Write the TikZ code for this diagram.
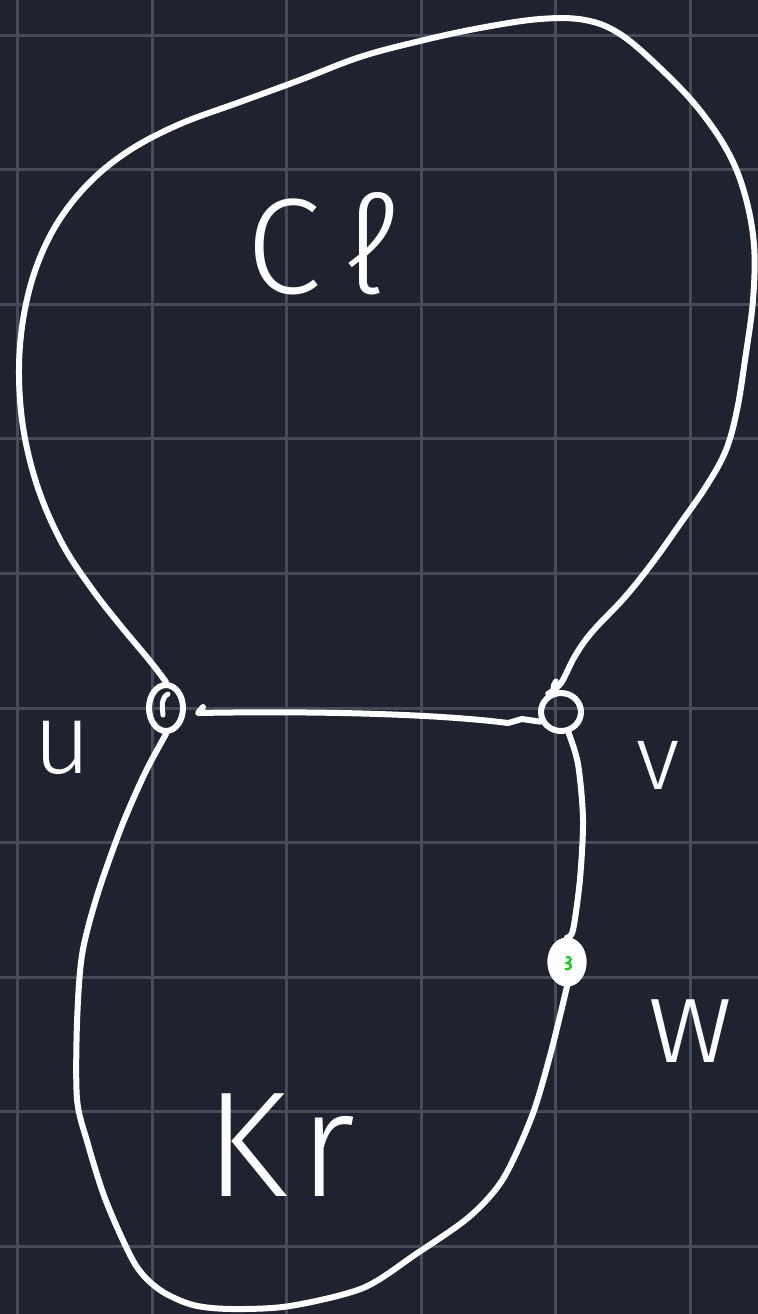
\documentclass[tikz,border=0pt]{standalone}
\usepackage{fontspec}
\newfontfamily\hand{Fira Sans Light}
\usetikzlibrary{shapes.geometric}
\definecolor{bg}{HTML}{1F2330}
\definecolor{gridc}{HTML}{474B58}
\definecolor{markc}{HTML}{22CC22}
\begin{document}
\begin{tikzpicture}[x=0.5pt,y=-0.5pt,
  stroke/.style={draw=white,line width=3pt,line cap=round,line join=round},
  vert/.style={ellipse,draw=white,line width=3pt,inner sep=0pt},
  lbl/.style={text=white,inner sep=0pt}]
\fill[bg] (0,0) rectangle (758,1314);
\useasboundingbox (0,0) rectangle (758,1314);
\foreach \i in {0,...,5} \draw[gridc,line width=1.5pt] ({17.5+134.6*\i},0) -- ({17.5+134.6*\i},1314);
\foreach \j in {0,...,9} \draw[gridc,line width=1.5pt] (0,{35+134.6*\j}) -- (758,{35+134.6*\j});

% vertices
\node[vert,minimum width=17pt,minimum height=23pt] (u) at (166,708) {};
\node[vert,minimum width=20pt,minimum height=19pt] (v) at (561,712) {};

% top blob C_l
\draw[stroke] plot[smooth,tension=0.6] coordinates {(u.north) (150,661) (120,625) (92,589) (63,545) (39,491) (24,433) (19,375) (23,320) (36,268) (58,222) (90,182) (130,150) (180,124) (240,102) (300,80) (360,57) (420,41) (480,28) (540,19) (585,20) (620,34) (660,68) (698,108) (728,152) (745,195) (754,245) (753,300) (745,360) (737,410) (726,450) (707,485) (680,524) (653,562) (625,597) (592,632) (575,656) (561,683) (v.125)};

% bottom blob K_r
\node[vert,fill=white,minimum width=16.5pt,minimum height=21.5pt] (w) at (567,962) {};
\draw[stroke] plot[smooth] coordinates {(u.south) (145,773) (121,828) (97,896) (82,955) (77,1023) (77,1099) (87,1141) (106,1201) (135,1264) (160,1290) (193,1305) (232,1309) (290,1306) (363,1288) (416,1254) (469,1217) (503,1179) (532,1116) (551,1052) (w.south)};
\draw[stroke] plot[smooth] coordinates {(w.north) (573,930) (580,879) (583,819) (578,764) (v.-70)};
\node[vert,fill=white,minimum width=16.5pt,minimum height=21.5pt] at (w) {};

% edge u - v
\coordinate (e0) at (203,707);
\draw[stroke] (e0) -- (198,713) .. controls (300,711) and (430,713) .. (508,723) -- (522,719) -- (v.205);

% small strokes inside vertices
\draw[stroke,line width=2.5pt] (163,715) .. controls (162,705) and (161,698) .. (168,694);
\draw[stroke,line width=2.5pt] (556,681) .. controls (551,687) and (552,694) .. (559,693);
\draw[markc,line width=1.2pt] (566,957) .. controls (572,956) and (572,962) .. (567,963) .. controls (573,964) and (572,970) .. (565,969);

% labels
\node[lbl,font=\hand\fontsize{68}{68}\selectfont] (cl) at (322,244) {C\hspace{12pt}ℓ};
\node[lbl,font=\hand\fontsize{75}{75}\selectfont] (kr) at (280,1145) {K\hspace{6pt}r};
\node[lbl,font=\hand\fontsize{50}{50}\selectfont] (ul) at (62,748) {u};
\node[lbl,font=\hand\fontsize{46}{46}\selectfont] (vl) at (658,765) {v};
\node[lbl,font=\hand\fontsize{60}{60}\selectfont] (wl) at (690,1031) {w};
\end{tikzpicture}
\end{document}
